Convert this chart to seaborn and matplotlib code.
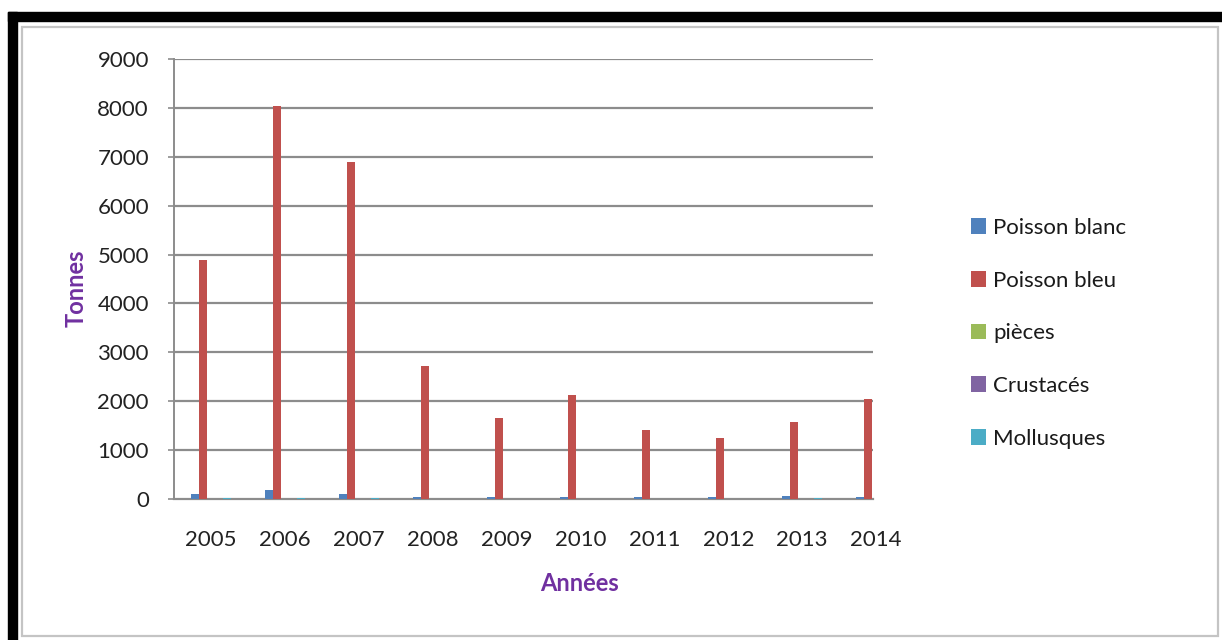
import matplotlib
matplotlib.use("Agg")
import matplotlib.pyplot as plt
from matplotlib.patches import Rectangle
import seaborn as sns
import pandas as pd

# Landings per year and product group (tonnes)
annees = ["2005", "2006", "2007", "2008", "2009", "2010", "2011", "2012", "2013", "2014"]
poisson_blanc = [110, 175, 95, 40, 35, 40, 45, 50, 65, 40]
poisson_bleu = [4880, 8030, 6900, 2720, 1660, 2120, 1420, 1240, 1570, 2050]
pieces = [6, 8, 6, 5, 4, 5, 5, 5, 6, 5]
crustaces = [8, 10, 8, 6, 5, 6, 6, 6, 7, 6]
mollusques = [12, 20, 14, 10, 8, 9, 9, 10, 12, 10]

series = ["Poisson blanc", "Poisson bleu", "pièces", "Crustacés", "Mollusques"]
couleurs = ["#4F81BD", "#C0504D", "#9BBB59", "#8064A2", "#4BACC6"]
yticks = [0, 1000, 2000, 3000, 4000, 5000, 6000, 7000, 8000, 9000]

df = pd.DataFrame({
    "Année": annees * 5,
    "Tonnes": poisson_blanc + poisson_bleu + pieces + crustaces + mollusques,
    "Catégorie": [s for s in series for _ in annees],
})

sns.set_style("white")
plt.rcParams["font.family"] = ["Lato", "DejaVu Sans"]

W, H = 1222, 640
fig = plt.figure(figsize=(W / 100, H / 100), dpi=100)
fig.patch.set_facecolor("white")

# outer frame: black bands on top and left, light grey chart border
fig.patches.append(Rectangle((8 / W, 1 - 21 / H), 1 - 8 / W, 9 / H,
                             transform=fig.transFigure, color="black", zorder=0))
fig.patches.append(Rectangle((8 / W, 0), 9 / W, 1 - 12 / H,
                             transform=fig.transFigure, color="black", zorder=0))
fig.patches.append(Rectangle((22 / W, 1 - 636 / H), (1218 - 22) / W, (636 - 27) / H,
                             transform=fig.transFigure, fill=False,
                             edgecolor="#c4c4c4", linewidth=1.6, zorder=0))

left, right, top, bottom = 174, 913, 59, 499
ax = fig.add_axes([left / W, 1 - bottom / H, (right - left) / W, (bottom - top) / H])
ax.set_facecolor("none")

sns.barplot(data=df, x="Année", y="Tonnes", hue="Catégorie", order=annees,
            hue_order=series, palette=couleurs, width=0.54, gap=0,
            errorbar=None, linewidth=0, saturation=1, ax=ax, zorder=3)

ax.set_xlim(-0.5, 9.5)
ax.set_ylim(0, 9000)
ax.set_yticks(yticks)

# horizontal gridlines and axes
grid_end = 8.96
ax.hlines(yticks[1:], -0.5, grid_end, colors="#8c8c8c", linewidth=1.6, zorder=1)
for s in ["top", "right"]:
    ax.spines[s].set_visible(False)
ax.spines["left"].set_color("#8c8c8c")
ax.spines["left"].set_linewidth(1.4)
ax.spines["bottom"].set_color("#8c8c8c")
ax.spines["bottom"].set_linewidth(1.6)
ax.spines["bottom"].set_bounds(-0.5, grid_end)

ax.tick_params(axis="y", length=4, width=1.2, color="#8c8c8c", pad=14,
               labelsize=16, labelcolor="#222222", left=True)
ax.tick_params(axis="x", length=0, pad=22, labelsize=16, labelcolor="#222222")

ax.set_ylabel("Tonnes", fontsize=17, fontweight="bold", color="#7030A0")
ax.yaxis.set_label_coords((88 - left) / (right - left), (bottom - 288) / (bottom - top))
ax.set_xlabel("Années", fontsize=17, fontweight="bold", color="#7030A0")
ax.xaxis.set_label_coords((580 - left) / (right - left), (bottom - 572) / (bottom - top))

handles, labels = ax.get_legend_handles_labels()
ax.legend(handles, labels, loc="upper left", bbox_to_anchor=(962 / W, 1 - 209 / H),
          bbox_transform=fig.transFigure, frameon=False, fontsize=16,
          handlelength=0.7, handleheight=0.7, handletextpad=0.3,
          labelspacing=1.47, borderaxespad=0, labelcolor="#1a1a1a")

fig.savefig("out.png", dpi=100, facecolor="white")
